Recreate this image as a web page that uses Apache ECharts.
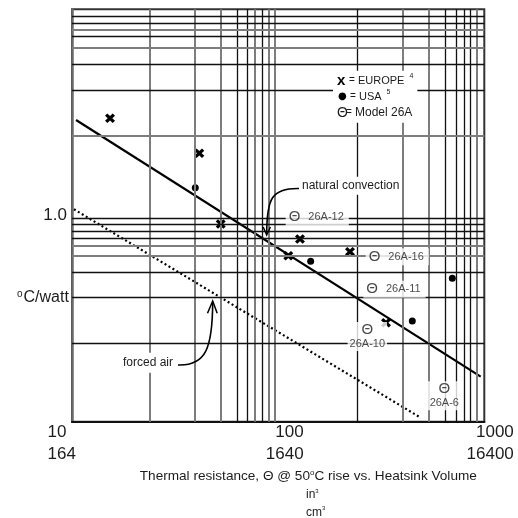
<!DOCTYPE html>
<html><head><meta charset="utf-8">
<script src="https://cdn.jsdelivr.net/npm/echarts@6.0.0/dist/echarts.min.js"></script>
<style>html,body{margin:0;padding:0;background:#fff}#c{width:518px;height:518px}</style>
</head><body><div id="c"></div>
<script>
// ---- data (x: in^3, y: °C/watt) ----
const xTickLabels = {10: ['10', '164'], 100: ['100', '1640'], 1000: ['1000', '16400']};
const yTickLabels = {1: '1.0'};
const europe = [[15.29, 2.961], [41.45, 2.003], [52.65, 0.909], [127.6, 0.769], [112.0, 0.638], [223.1, 0.6675], [333.6, 0.302]];
const usa = [[39.63, 1.364], [143.8, 0.600], [447.4, 0.308], [699.6, 0.496]];
const modelNames = ['26A-12', '26A-16', '26A-11', '26A-10', '26A-6'];
const modelX = [116.3, 284.3, 276.8, 270.7, 639.7];
const modelY = [0.980, 0.631, 0.4385, 0.2784, 0.1436];
const naturalConvection = [[10.46, 2.905], [960.5, 0.1653]];
const forcedAir = [[10.22, 1.072], [482.3, 0.1057]];
// grid lines of the (hand-drawn) log paper
const vGrid = [23.89, 39.50, 52.64, 63.51, 70.85, 76.79, 83.87, 89.99, 96.54, 242.6, 403.3, 538.0, 649.8, 734.7, 795.3, 854.3, 923.8];
const hGrid = [9.279, 8.552, 7.963, 7.421, 6.514, 5.411, 4.061, 2.430, 0.9692, 0.9064, 0.8410, 0.7750, 0.7138, 0.6383, 0.5302, 0.3967, 0.2400];
const vGridGray = [23.89, 39.50, 52.64, 76.79, 89.99, 96.54, 403.3, 538.0, 923.8];
const hGridGray = [7.963, 6.514, 2.430, 0.7138, 0.6383];

const FONT = '"Liberation Sans", Arial, sans-serif';
const INK = '#1c1c1c';
const GRAY = '#7d7d7d';

const chart = echarts.init(document.getElementById('c'));

function gridStyle(isGray) {
  return isGray ? {color: GRAY, width: 2, type: 'solid'} : {color: '#111', width: 1.3, type: 'solid'};
}
const markV = vGrid.map(v => ({xAxis: v, lineStyle: gridStyle(vGridGray.includes(v))}));
const markH = hGrid.map(v => ({yAxis: v, lineStyle: gridStyle(hGridGray.includes(v))}));

function fmtX(v) {
  const k = Math.round(Math.log10(v));
  const l = xTickLabels[Math.pow(10, k)];
  if (!l) return '';
  const st = k === 1 ? 'l' : (k === 2 ? 'm' : 'r');
  return '{' + st + '|' + l[0] + '}\n{' + st + '|' + l[1] + '}';
}
function fmtY(v) {
  const k = Math.round(Math.log10(v));
  if (Math.abs(Math.log10(v) - k) > 1e-6) return '';
  return yTickLabels[Math.pow(10, k)] || '';
}
const xRich = {
  l: {width: 49, align: 'left', fontSize: 17, lineHeight: 22, fontFamily: FONT, color: INK},
  m: {width: 51, align: 'right', fontSize: 17, lineHeight: 22, fontFamily: FONT, color: INK},
  r: {width: 59, align: 'right', fontSize: 17, lineHeight: 22, fontFamily: FONT, color: INK}
};

const stackedModels = ['26A-10', '26A-6'];
const modelData = modelNames.map((n, i) => {
  const stacked = stackedModels.includes(n);
  return {
    name: n,
    value: [modelX[i], modelY[i]],
    label: stacked ? {
      show: true, position: 'inside', align: 'center', verticalAlign: 'top', offset: [0, -8],
      formatter: '{t|Θ}\n{n|' + n + '}', backgroundColor: '#fff', padding: [0, 2, 1, 2]
    } : {
      show: true, position: 'inside', align: 'left', verticalAlign: 'middle', offset: [-6, 0],
      formatter: '{t|Θ}{g|}{n|' + n + '}', backgroundColor: '#fff', padding: [1, 5, 1, 3]
    }
  };
});

const xMarker = 'path://M0,2.3L2.3,0L5,2.7L7.7,0L10,2.3L7.3,5L10,7.7L7.7,10L5,7.3L2.3,10L0,7.7L2.7,5Z';

const option = {
  animation: false,
  backgroundColor: '#fff',
  grid: {left: 72, right: 33.7, top: 9.3, bottom: 96.3, show: true, borderColor: '#333', borderWidth: 2, outerBoundsMode: 'none', containLabel: false},
  xAxis: {
    type: 'log', logBase: 10, min: 10, max: 1000,
    axisLine: {show: true, onZero: false, lineStyle: {color: '#111', width: 2.2}},
    axisTick: {show: false}, splitLine: {show: false}, minorTick: {show: false},
    axisLabel: {show: true, margin: 0, formatter: fmtX, rich: xRich, color: INK, showMinLabel: true, showMaxLabel: true}
  },
  yAxis: {
    type: 'log', logBase: 10, min: 0.1, max: 10,
    axisLine: {show: true, onZero: false, lineStyle: {color: '#6a6a6a', width: 2.5}},
    axisTick: {show: false}, splitLine: {show: false},
    axisLabel: {show: true, margin: 5, formatter: fmtY, fontSize: 17, fontFamily: FONT, color: INK, padding: [6, 0, 0, 0]}
  },
  series: [
    {
      type: 'line', name: 'grid', data: [], z: 1, silent: true,
      markLine: {silent: true, symbol: ['none', 'none'], label: {show: false}, animation: false,
        data: markV.concat(markH)}
    },
    {
      type: 'line', name: 'natural convection', data: naturalConvection, z: 3, showSymbol: false, symbol: 'none',
      lineStyle: {color: '#000', width: 2.2}
    },
    {
      type: 'line', name: 'forced air', data: forcedAir, z: 3, showSymbol: false, symbol: 'none',
      lineStyle: {color: '#000', width: 2.2, type: [2, 2.6]}
    },
    {
      type: 'scatter', name: 'EUROPE', data: europe, z: 4, symbol: xMarker, symbolSize: [10, 9.5],
      itemStyle: {color: '#000', opacity: 1}
    },
    {
      type: 'scatter', name: 'USA', data: usa, z: 4, symbol: 'circle', symbolSize: 7,
      itemStyle: {color: '#000', opacity: 1}
    },
    {
      type: 'scatter', name: 'Model 26A', data: modelData, z: 5, symbol: 'circle', symbolSize: 1,
      itemStyle: {color: 'rgba(0,0,0,0)'},
      label: {
        color: INK,
        rich: {
          t: {fontSize: 15, lineHeight: 15, fontFamily: FONT, color: INK},
          g: {width: 8},
          n: {fontSize: 11, lineHeight: 13, fontFamily: FONT, color: INK}
        }
      }
    }
  ],
  graphic: [
    // legend box
    {
      type: 'text', x: 333, y: 70.7, z: 100,
      style: {
        text: '{ic|x}{eq|=}{t|EUROPE}{s|4}\n{icd|●}{eq|=}{t|USA}{s|5}\n{th|Θ}{eq|=}{m|Model 26A}',
        align: 'left', verticalAlign: 'top', backgroundColor: '#fff', padding: [2, 4, 2, 4],
        fill: INK, font: '11px ' + FONT,
        rich: {
          ic: {width: 12, fontSize: 15, fontWeight: 'bold', lineHeight: 16, fontFamily: FONT, fill: '#000'},
          icd: {width: 12, fontSize: 10, lineHeight: 16, fontFamily: 'DejaVu Sans', fill: '#000', padding: [0, 0, 0, 1]},
          th: {width: 9, fontSize: 14, lineHeight: 16, fontFamily: FONT, fill: INK},
          eq: {width: 9, fontSize: 10, lineHeight: 16, fontFamily: FONT, fill: INK},
          t: {fontSize: 11, lineHeight: 16, fontFamily: FONT, fill: INK},
          m: {fontSize: 12, lineHeight: 16, fontFamily: FONT, fill: INK},
          s: {fontSize: 7, lineHeight: 14, verticalAlign: 'top', fontFamily: FONT, fill: INK, padding: [0, 0, 0, 5]}
        }
      }
    },
    // annotation texts
    {
      type: 'text', x: 300, y: 185.7, z: 100,
      style: {text: 'natural convection', font: '12px ' + FONT, fill: INK, align: 'left', verticalAlign: 'middle',
        backgroundColor: '#fff', padding: [3, 2, 3, 2]}
    },
    {
      type: 'text', x: 121, y: 362.7, z: 100,
      style: {text: 'forced air', font: '12px ' + FONT, fill: INK, align: 'left', verticalAlign: 'middle',
        backgroundColor: '#fff', padding: [4, 2, 4, 2]}
    },
    // arrows
    {
      type: 'bezierCurve', z: 101,
      shape: {x1: 299, y1: 188.5, cpx1: 272, cpy1: 188, cpx2: 266.7, cpy2: 198, x2: 266.7, y2: 234},
      style: {stroke: '#000', lineWidth: 1.6, fill: null}
    },
    {
      type: 'polyline', z: 101,
      shape: {points: [[263.2, 227], [266.7, 235], [270.4, 227]]},
      style: {stroke: '#000', lineWidth: 1.5, fill: null}
    },
    {
      type: 'bezierCurve', z: 101,
      shape: {x1: 178, y1: 365, cpx1: 206, cpy1: 366, cpx2: 212.5, cpy2: 348, x2: 212.7, y2: 302},
      style: {stroke: '#000', lineWidth: 1.6, fill: null}
    },
    {
      type: 'polyline', z: 101,
      shape: {points: [[207.5, 313.3], [212.7, 301], [217.2, 313.3]]},
      style: {stroke: '#000', lineWidth: 1.5, fill: null}
    },
    // y axis title
    {
      type: 'text', x: 17, y: 298, z: 100,
      style: {
        text: '{s|o}{m|C/watt}', align: 'left', verticalAlign: 'middle', fill: INK,
        rich: {
          s: {fontSize: 10, lineHeight: 18, verticalAlign: 'top', fontFamily: FONT, fill: INK, padding: [0, 1, 0, 0]},
          m: {fontSize: 16, lineHeight: 18, fontFamily: FONT, fill: INK}
        }
      }
    },
    // x axis title
    {
      type: 'text', x: 308.3, y: 476.7, z: 100,
      style: {
        text: '{m|Thermal resistance, Θ @ 50}{s|o}{m|C rise vs. Heatsink Volume}', align: 'center', verticalAlign: 'middle', fill: INK,
        rich: {
          s: {fontSize: 8, lineHeight: 16, verticalAlign: 'top', fontFamily: FONT, fill: INK},
          m: {fontSize: 13.6, lineHeight: 16, fontFamily: FONT, fill: INK}
        }
      }
    },
    {
      type: 'text', x: 306, y: 495, z: 100,
      style: {
        text: '{m|in}{s|3}', align: 'left', verticalAlign: 'middle', fill: INK,
        rich: {
          s: {fontSize: 6, lineHeight: 14, verticalAlign: 'top', fontFamily: FONT, fill: INK},
          m: {fontSize: 12, lineHeight: 14, fontFamily: FONT, fill: INK}
        }
      }
    },
    {
      type: 'text', x: 306, y: 512.5, z: 100,
      style: {
        text: '{m|cm}{s|3}', align: 'left', verticalAlign: 'middle', fill: INK,
        rich: {
          s: {fontSize: 6, lineHeight: 14, verticalAlign: 'top', fontFamily: FONT, fill: INK},
          m: {fontSize: 12, lineHeight: 14, fontFamily: FONT, fill: INK}
        }
      }
    }
  ]
};
chart.setOption(option);
</script>
</body></html>
